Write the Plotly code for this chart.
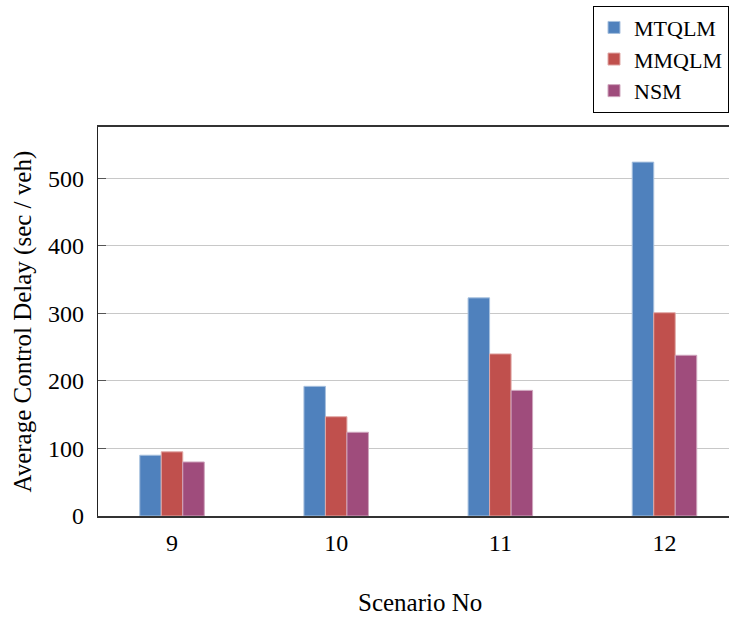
import plotly.graph_objects as go

# Average control delay per scenario for the three signal-control methods
scenarios = [9, 10, 11, 12]
tick_labels = ["9", "10", "11", "12"]
mtqlm = [90, 192, 323, 524]
mmqlm = [95, 147, 240, 301]
nsm = [80, 124, 186, 238]

series = [
    ("MTQLM", mtqlm, "#4F81BD", "#A7C0DE"),
    ("MMQLM", mmqlm, "#C0504D", "#E0A8A6"),
    ("NSM", nsm, "#9F4C7C", "#CFA5BD"),
]

FONT = "Liberation Serif"

fig = go.Figure()
for name, vals, fill, edge in series:
    fig.add_trace(go.Bar(
        x=scenarios, y=vals, name=name,
        marker=dict(color=fill, line=dict(color=edge, width=1)),
    ))

fig.update_layout(
    width=729, height=617,
    margin=dict(l=98, r=0, t=127, b=101),
    paper_bgcolor="white", plot_bgcolor="white",
    barmode="group", bargap=0.607, bargroupgap=0,
    font=dict(family=FONT, size=24, color="black"),
    showlegend=True,
    legend=dict(
        x=1, xanchor="right", y=1.312, yanchor="top",
        bordercolor="black", borderwidth=1, bgcolor="white",
        font=dict(family=FONT, size=22, color="black"), itemwidth=30,
        entrywidth=110, tracegroupgap=0,
    ),
    xaxis=dict(
        range=[8.549, 12.393], tickvals=scenarios, ticktext=tick_labels,
        showgrid=False, zeroline=False, ticks="",
        showline=True, linecolor="#333333", linewidth=1.5, mirror=True,
        ticklabelstandoff=4,
        tickfont=dict(family=FONT, size=24, color="black"),
    ),
    yaxis=dict(
        range=[0, 576], tickvals=[0, 100, 200, 300, 400, 500],
        showgrid=True, gridcolor="#C8C8C8", gridwidth=1, zeroline=False,
        ticks="inside", ticklen=8, tickcolor="#555555",
        showline=True, linecolor="#222222", linewidth=1.2,
        ticklabelstandoff=8,
        tickfont=dict(family=FONT, size=24, color="black"),
    ),
    annotations=[
        dict(text="Average Control Delay (sec / veh)", xref="paper", yref="paper",
             x=-0.1204, y=0.5, xanchor="center", yanchor="middle",
             textangle=-90, showarrow=False,
             font=dict(family=FONT, size=25, color="black")),
        dict(text="Scenario No", xref="paper", yref="paper",
             x=0.510, y=-0.222, xanchor="center", yanchor="middle",
             showarrow=False, font=dict(family=FONT, size=25, color="black")),
    ],
)

fig.write_html("out.html")
